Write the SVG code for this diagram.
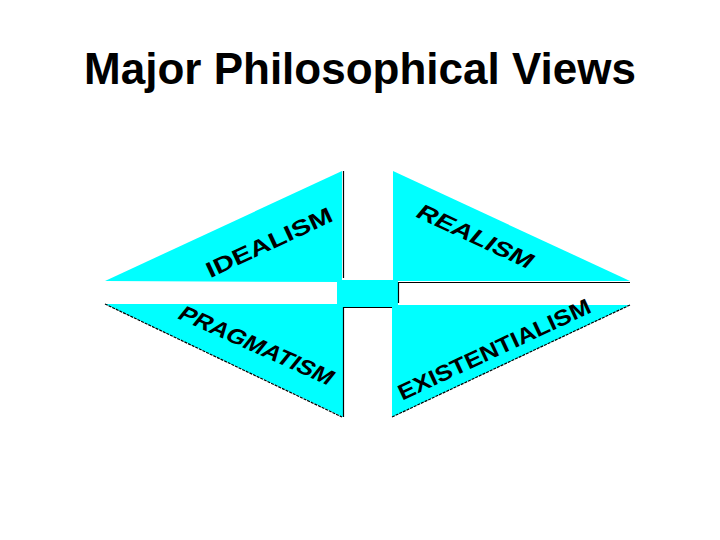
<svg xmlns="http://www.w3.org/2000/svg" width="720" height="540" viewBox="0 0 720 540">
<style>
.bg{fill:#ffffff}
.cy{fill:#00ffff;stroke:none}
.edge{stroke:#000000;stroke-width:1.2;fill:none}
.title{font-family:"Liberation Sans",Arial,sans-serif;font-weight:bold;font-size:44px;fill:#000000}
.lbl{font-family:"Liberation Sans",Arial,sans-serif;font-weight:bold;font-size:22px;fill:#000000}
</style>
<rect class="bg" x="0" y="0" width="720" height="540"/>
<g id="title">
<text class="title" x="360" y="84" text-anchor="middle">Major Philosophical Views</text>
</g>
<g id="center">
<rect class="cy" x="337" y="280" width="61" height="27"/>
</g>
<g id="idealism">
<polygon class="cy" points="105,281 342,171 342,282"/>
<line class="edge" x1="343.5" y1="171" x2="343.5" y2="278"/>
<text class="lbl" transform="translate(269,242) rotate(-25)" x="0" y="8" text-anchor="middle" textLength="137" lengthAdjust="spacingAndGlyphs">IDEALISM</text>
</g>
<g id="realism">
<polygon class="cy" points="393,171 630,281 393,281"/>
<text class="lbl" transform="translate(476,236) rotate(25) skewX(-15)" x="0" y="8" text-anchor="middle" textLength="125" lengthAdjust="spacingAndGlyphs">REALISM</text>
</g>
<g id="pragmatism">
<polygon class="cy" points="105,304 343,417 343,304"/>
<line class="edge" x1="105" y1="304" x2="342" y2="417" stroke-dasharray="3,1"/>
<line class="edge" x1="343.5" y1="307" x2="343.5" y2="417"/>
<line class="edge" x1="343" y1="307.5" x2="392" y2="307.5"/>
<text class="lbl" transform="translate(257,345) rotate(24) skewX(-15)" x="0" y="8" text-anchor="middle" textLength="166" lengthAdjust="spacingAndGlyphs">PRAGMATISM</text>
</g>
<g id="existentialism">
<polygon class="cy" points="392,305 630,305 392,417"/>
<line class="edge" x1="630" y1="305" x2="392" y2="417" stroke-dasharray="3,1"/>
<text class="lbl" transform="translate(494,349) rotate(-25)" x="0" y="8" text-anchor="middle" textLength="210" lengthAdjust="spacingAndGlyphs">EXISTENTIALISM</text>
</g>
<g id="connectors">
<polyline class="edge" points="398.5,303 398.5,282.5 630,282.5"/>
</g>
</svg>
